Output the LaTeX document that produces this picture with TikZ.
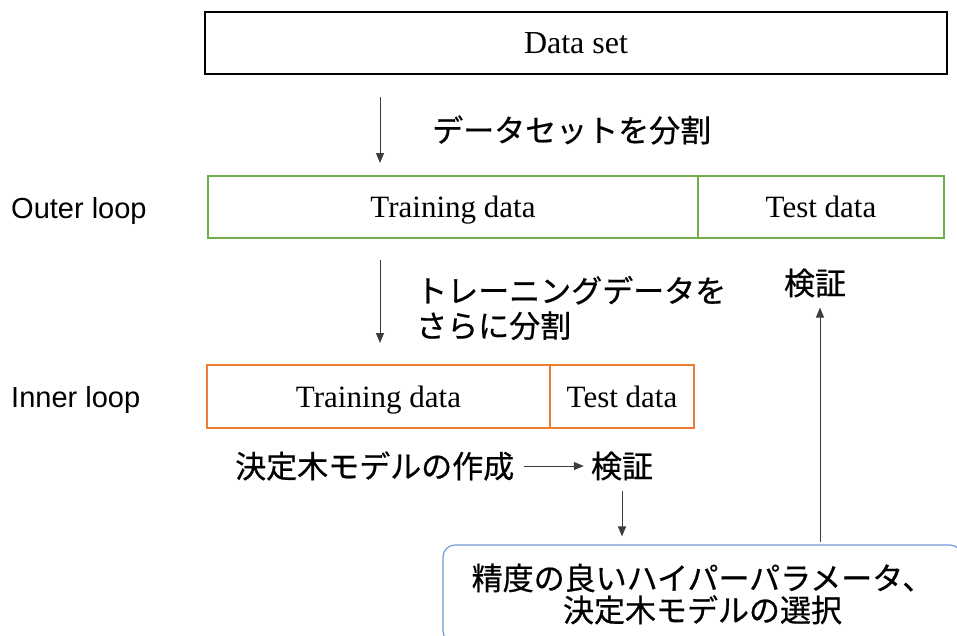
\documentclass[tikz,border=0pt]{standalone}
\usepackage{fontspec}
\setmainfont{Liberation Serif}
\newfontfamily\jpfont[FakeBold=0.6]{Noto Sans CJK JP}
\newfontfamily\labfont{Liberation Sans}
\usetikzlibrary{arrows.meta}

\definecolor{outergreen}{RGB}{112,173,71}
\definecolor{innerorange}{RGB}{237,125,49}
\definecolor{resultblue}{RGB}{110,155,210}
\definecolor{arrowgray}{RGB}{60,60,60}

\begin{document}
\begin{tikzpicture}[x=1pt,y=-1pt,
  databox/.style={draw, line width=1.3pt, inner sep=0pt, minimum height=62pt,
    text height=24pt, text depth=3pt, font=\fontsize{31}{31}\selectfont},
  jptext/.style={inner sep=0pt, font=\jpfont\fontsize{31}{35}\selectfont},
  looplabel/.style={inner sep=0pt, anchor=base west, font=\labfont\fontsize{29}{29}\selectfont},
  conn/.style={draw=arrowgray, line width=1pt, -{Triangle[length=10pt,width=8pt]}}
]
\useasboundingbox (0,0) rectangle (957,635);
\clip (0,0) rectangle (957,635);

% whole data set
\node[databox, draw=black, minimum width=742pt, font=\fontsize{32}{32}\selectfont] (ds) at (576,43) {Data set};

% outer loop split
\node[databox, draw=outergreen, minimum width=490pt] (otrain) at (453,207) {Training data};
\node[databox, draw=outergreen, minimum width=246pt] (otest) at (821,207) {Test data};
\node[looplabel] (outer) at (11,218) {Outer loop};

% inner loop split
\node[databox, draw=innerorange, minimum width=343pt, minimum height=63pt] (itrain) at (378.5,396.5) {Training data};
\node[databox, draw=innerorange, minimum width=144pt, minimum height=63pt] (itest) at (622,396.5) {Test data};
\node[looplabel] (inner) at (11,407) {Inner loop};

% step labels
\node[jptext, anchor=west] (split1) at (432,130) {データセットを分割};
\node[jptext, anchor=west, align=left] (split2) at (416,308) {トレーニングデータを\\さらに分割};
\node[jptext] (vouter) at (815,283) {検証};
\node[jptext, anchor=west] (build) at (235,466) {決定木モデルの作成};
\node[jptext] (vinner) at (622,466) {検証};

% selected result (runs off the right and bottom edges)
\node[draw=resultblue, line width=1.2pt, rounded corners=12pt, minimum width=519pt,
  minimum height=98pt, inner sep=0pt, align=center,
  font=\jpfont\fontsize{31}{32}\selectfont] (res) at (702.5,594)
  {精度の良いハイパーパラメータ、\\決定木モデルの選択};

% connectors
\coordinate (s1) at (380,97);
\coordinate (e1) at (380,163);
\draw[conn] (s1) -- (e1);
\coordinate (s2) at (380,260);
\coordinate (e2) at (380,343);
\draw[conn] (s2) -- (e2);
\draw[conn, shorten <=10pt, shorten >=7pt] (build.east) -- (build.east -| vinner.west);
\draw[conn, shorten <=10pt, shorten >=8pt] (vinner.south) -- (vinner.south |- res.north);
\draw[conn, shorten <=2pt, shorten >=10pt] (res.north -| 820,0) -- (vouter.south -| 820,0);
\end{tikzpicture}
\end{document}
